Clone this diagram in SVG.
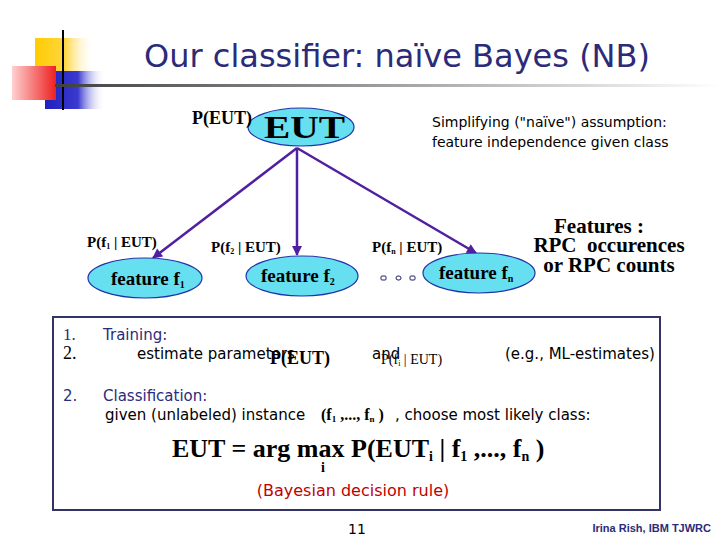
<svg xmlns="http://www.w3.org/2000/svg" width="720" height="540" viewBox="0 0 720 540">
<defs>
<linearGradient id="gY" x1="0" x2="1" y1="0" y2="0"><stop offset="0" stop-color="#ffcc00"/><stop offset="0.5" stop-color="#ffd640"/><stop offset="1" stop-color="#ffffff" stop-opacity="0"/></linearGradient>
<linearGradient id="gB" x1="0" x2="1" y1="0" y2="0"><stop offset="0" stop-color="#2020c0"/><stop offset="0.55" stop-color="#3a3ad0"/><stop offset="1" stop-color="#ffffff" stop-opacity="0"/></linearGradient>
<linearGradient id="gR" x1="0" x2="1" y1="0" y2="0"><stop offset="0" stop-color="#ffd0d0"/><stop offset="1" stop-color="#ee2020"/></linearGradient>
<linearGradient id="gL" x1="0" x2="1" y1="0" y2="0"><stop offset="0" stop-color="#404040"/><stop offset="1" stop-color="#ffffff"/></linearGradient>
<marker id="arr" viewBox="0 0 10 10" refX="9" refY="5" markerWidth="4.5" markerHeight="4" orient="auto"><path d="M0,0 L10,5 L0,10 z" fill="#5020a0"/></marker>
<style>
.title{font-family:"DejaVu Sans",sans-serif;font-size:32px;fill:#2b2b7a}
.node ellipse{fill:#66e0f0;stroke:#2233aa;stroke-width:1.2}
.tb{font-family:"Liberation Serif",serif;font-weight:bold;fill:#000}
.ts{font-family:"DejaVu Sans",sans-serif;fill:#000}
.nv{font-family:"DejaVu Sans",sans-serif;fill:#2b2b7a}
.edge{stroke:#5020a0;stroke-width:2.5;fill:none;marker-end:url(#arr)}
</style>
</defs>
<rect width="720" height="540" fill="#fff"/>
<!-- decoration -->
<rect x="35" y="38" width="60" height="33" fill="url(#gY)"/>
<rect x="45" y="71" width="60" height="38" fill="url(#gB)"/>
<rect x="12" y="66" width="44" height="34" fill="url(#gR)"/>
<line x1="63" y1="30" x2="63" y2="110" stroke="#000" stroke-width="2"/>
<rect x="55" y="84" width="665" height="3" fill="url(#gL)"/>
<text class="title" x="144" y="67">Our classifier: naïve Bayes (NB)</text>
<text class="ts" x="432" y="127" font-size="14">Simplifying ("naïve") assumption:</text>
<text class="ts" x="432" y="147" font-size="14">feature independence given class</text>
<!-- connectors -->
<g id="connectors">
<line class="edge" x1="297" y1="148" x2="153" y2="258"/>
<line class="edge" x1="297" y1="148" x2="297" y2="255"/>
<line class="edge" x1="297" y1="148" x2="476" y2="253"/>
</g>
<!-- nodes -->
<g id="node-eut" class="node">
<ellipse cx="301" cy="127" rx="53" ry="19"/>
<text class="tb" x="264" y="138" font-size="31" textLength="81" lengthAdjust="spacingAndGlyphs">EUT</text>
</g>
<g id="node-f1" class="node">
<ellipse cx="145" cy="278" rx="57" ry="20"/>
<text class="tb" x="111" y="285" font-size="19">feature f<tspan font-size="10" dy="3">1</tspan></text>
</g>
<g id="node-f2" class="node">
<ellipse cx="302" cy="276" rx="56" ry="20"/>
<text class="tb" x="261" y="282" font-size="19">feature f<tspan font-size="10" dy="3">2</tspan></text>
</g>
<g id="node-fn" class="node">
<ellipse cx="479" cy="273" rx="56" ry="20"/>
<text class="tb" x="439" y="279" font-size="19">feature f<tspan font-size="10" dy="3">n</tspan></text>
</g>
<!-- labels -->
<text class="tb" x="192" y="124" font-size="18">P(EUT)</text>
<text class="tb" x="87" y="247" font-size="15">P(f<tspan font-size="8" dy="2">1</tspan><tspan dy="-2"> | EUT)</tspan></text>
<text class="tb" x="211" y="252" font-size="15">P(f<tspan font-size="8" dy="2">2</tspan><tspan dy="-2"> | EUT)</tspan></text>
<text class="tb" x="372" y="252" font-size="15">P(f<tspan font-size="8" dy="2">n</tspan><tspan dy="-2"> | EUT)</tspan></text>
<g fill="none" stroke="#222266" stroke-width="1">
<rect x="381" y="276" width="5" height="4" rx="1"/>
<rect x="396" y="276" width="5" height="4" rx="2"/>
<rect x="410" y="276" width="5" height="4" rx="1"/>
</g>
<text class="tb" x="599" y="233" font-size="21" text-anchor="middle">Features :</text>
<text class="tb" x="609" y="252" font-size="21" text-anchor="middle" xml:space="preserve">RPC  occurences</text>
<text class="tb" x="609" y="272" font-size="21" text-anchor="middle">or RPC counts</text>
<!-- box -->
<rect x="53" y="317" width="607" height="193" fill="none" stroke="#333366" stroke-width="2"/>
<text x="63" y="340" font-size="17" style="font-family:'Liberation Serif',serif;fill:#2b2b7a">1.</text>
<text class="nv" x="103" y="340" font-size="15">Training:</text>
<text x="63" y="359" font-size="18" style="font-family:'Liberation Serif',serif;fill:#000">2.</text>
<text class="ts" x="137" y="359" font-size="15">estimate parameters</text>
<text class="tb" x="270" y="364" font-size="18">P(EUT)</text>
<text class="ts" x="372" y="359" font-size="15">and</text>
<text x="381" y="364" font-size="14" style="font-family:'Liberation Serif',serif;fill:#000">P(f<tspan font-size="8" dy="2">i</tspan><tspan dy="-2"> | EUT)</tspan></text>
<text class="ts" x="505" y="359" font-size="15">(e.g., ML-estimates)</text>
<text class="nv" x="63" y="401" font-size="15">2.</text>
<text class="nv" x="103" y="401" font-size="15">Classification:</text>
<text class="ts" x="105" y="420" font-size="15">given (unlabeled) instance</text>
<text class="tb" x="321" y="420" font-size="16">(f<tspan font-size="9" dy="2">1</tspan><tspan dy="-2"> ,..., f</tspan><tspan font-size="9" dy="2">n</tspan><tspan dy="-2"> )</tspan></text>
<text class="ts" x="395" y="420" font-size="15">, choose most likely class:</text>
<text class="tb" x="172" y="457" font-size="26">EUT = arg max P(EUT<tspan font-size="14" dy="4">i</tspan><tspan dy="-4"> | f</tspan><tspan font-size="14" dy="4">1</tspan><tspan dy="-4"> ,..., f</tspan><tspan font-size="14" dy="4">n</tspan><tspan dy="-4"> )</tspan></text>
<text class="tb" x="323" y="472" font-size="14" text-anchor="middle">i</text>
<text class="ts" x="353" y="496" font-size="16" text-anchor="middle" style="fill:#c00000">(Bayesian decision rule)</text>
<text class="ts" x="357" y="534" font-size="14" text-anchor="middle">11</text>
<text x="711" y="532" font-size="11" text-anchor="end" style="font-family:'Liberation Sans',sans-serif;font-weight:bold;fill:#2b2b7a">Irina Rish, IBM TJWRC</text>
</svg>
